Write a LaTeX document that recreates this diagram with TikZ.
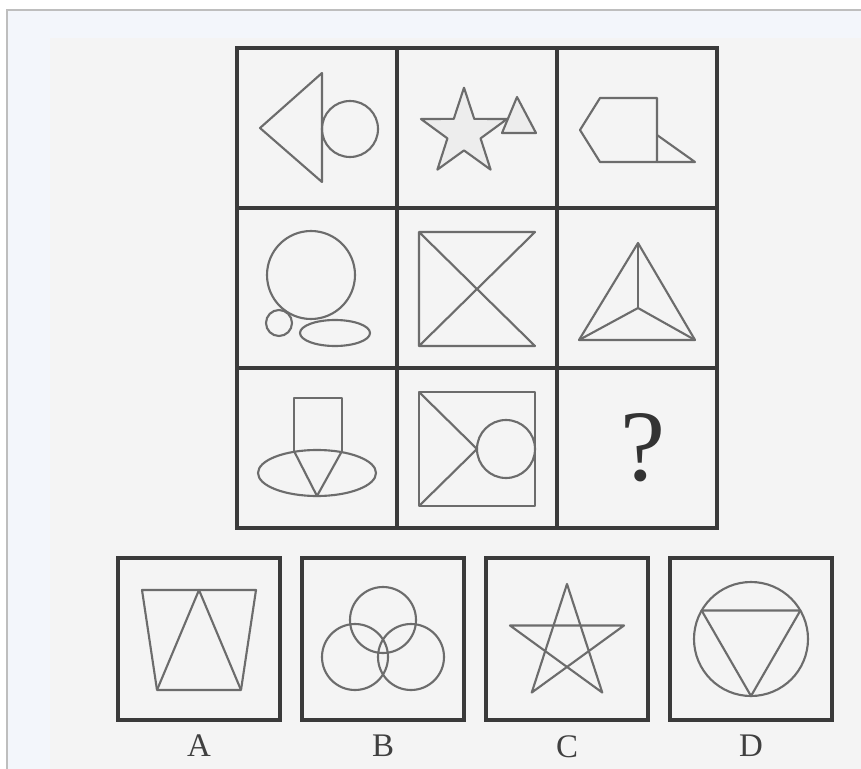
\documentclass[tikz,border=0pt]{standalone}
\usepackage{fontspec}
\setmainfont{Liberation Serif}
\usetikzlibrary{positioning,shapes.geometric}

\definecolor{framebg}{HTML}{F3F6FB}
\definecolor{frameline}{HTML}{BEBEBE}
\definecolor{paper}{HTML}{F4F4F4}
\definecolor{gridink}{HTML}{3A3A3A}
\definecolor{shapeink}{HTML}{6C6C6C}

\begin{document}
\begin{tikzpicture}[
  x=0.85pt, y=-0.85pt,
  cell/.style={
    draw=gridink, line width=2.8pt,
    minimum size=136pt, inner sep=0pt  % 160px squares
  },
  optbox/.style={
    draw=gridink, line width=2.8pt,
    minimum size=137.7pt, inner sep=0pt
  },
  optlabel/.style={font=\fontsize{28}{28}\selectfont, text=black!75},
  fig/.style={draw=shapeink, line width=1.8pt, line join=round},
  shade/.style={fill=black!7}
]
\useasboundingbox (0,0) rectangle (861,769);

% --- Page ---
\fill[white] (0,0) rectangle (861,769);
\fill[framebg] (7,10) rectangle (861,769);
\fill[paper] (50,38) rectangle (861,769);
\draw[frameline, line width=1.2pt] (7,769) -- (7,10) -- (861,10);

% --- Matrix ---
\foreach \r in {1,2,3} {
  \foreach \c in {1,2,3} {
    \node[cell] (c\r\c) at ({157+160*\c},{-32+160*\r}) {};
  }
}

% row 1
\draw[fig] (322,73) -- (260,128) -- (322,182) -- cycle;
\draw[fig] (350,129) circle[radius=28];
\node[star, star points=5, star point ratio=2.6, fig, shade,
  minimum size=77pt, inner sep=0pt] (star2) at (464,133) {};
\draw[fig, shade] (517,97) -- (536,133) -- (502,133) -- cycle;
\draw[fig] (580,130) -- (600,98) -- (657,98) -- (657,162) -- (600,162) -- cycle;
\draw[fig] (657,135) -- (695,162) -- (657,162);

% row 2
\draw[fig] (311,275) circle[radius=44];
\draw[fig] (279,323) circle[radius=13];
\draw[fig] (335,333) ellipse[x radius=35, y radius=13];
\draw[fig] (419,346) -- (419,232) -- (535,232) -- (419,346) -- (535,346) -- (419,232);
\draw[fig] (638,243) -- (579,340) -- (695,340) -- cycle;
\foreach \p in {(638,243),(579,340),(695,340)}
  \draw[fig] (638,308) -- \p;

% row 3
\draw[fig] (294,451) -- (294,398) -- (342,398) -- (342,451);
\draw[fig] (317,473) ellipse[x radius=59, y radius=23];
\draw[fig] (294,451) -- (317,496) -- (342,451);
\draw[fig] (419,392) rectangle (535,506);
\draw[fig] (419,392) -- (477,449) -- (419,506);
\draw[fig] (506,449) circle[radius=29];
\node[font=\fontsize{86}{86}\selectfont, text=black!80] (qmark)
  at ([xshift=5pt]c33) {?};

% --- Options ---
\node[optbox] (oA) at (199,639) {};
\node[optbox, right=15.9pt of oA] (oB) {};
\node[optbox, right=15.9pt of oB] (oC) {};
\node[optbox, right=15.9pt of oC] (oD) {};

\foreach \o in {A,B,C,D}
  \node[optlabel, below=8pt of o\o] (l\o) {\o};

\begin{scope}[shift={(oA.center)}]
  \draw[fig] (-57,-49) -- (57,-49) -- (42,51) -- (-42,51) -- cycle;
  \draw[fig] (-42,51) -- (0,-49) -- (42,51);
\end{scope}

\begin{scope}[shift={(oB.center)}]
  \foreach \p in {(0,-19),(-28,18),(28,18)}
    \draw[fig] \p circle[radius=33];
\end{scope}

\begin{scope}[shift={(oC.center)}]
  \foreach \k in {0,...,4}
    \coordinate (pC\k) at ({-90+72*\k}:60);
  \draw[fig] ([yshift=-4.25pt]pC0) -- ([yshift=-4.25pt]pC2) -- ([yshift=-4.25pt]pC4)
    -- ([yshift=-4.25pt]pC1) -- ([yshift=-4.25pt]pC3) -- cycle;
\end{scope}

\begin{scope}[shift={(oD.center)}]
  \draw[fig] (0,0) circle[radius=57];
  \draw[fig] (90:57) -- (210:57) -- (330:57) -- cycle;
\end{scope}

\end{tikzpicture}
\end{document}
